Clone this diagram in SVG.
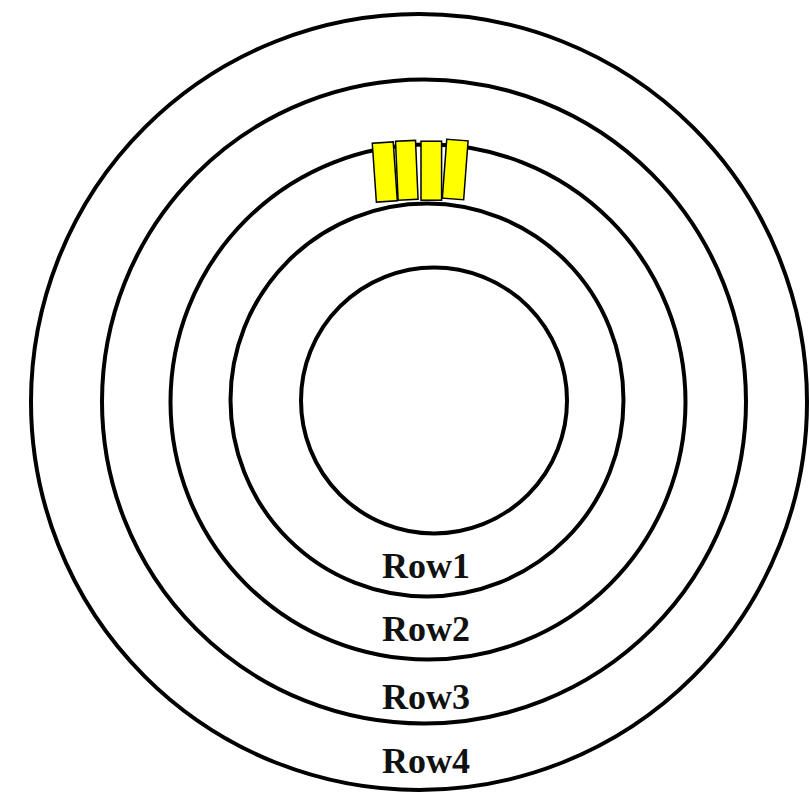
<svg xmlns="http://www.w3.org/2000/svg" width="810" height="792" viewBox="0 0 810 792">
<style>
.ring{fill:none;stroke:#000;stroke-width:4}
.slot{fill:#ffff00;stroke:#000;stroke-width:1.5}
.lbl{font-family:"Liberation Serif","DejaVu Serif",serif;font-weight:bold;font-size:36px;fill:#111;text-anchor:middle}
</style>
<rect width="810" height="792" fill="#fff"/>
<g id="ring5"><circle class="ring" cx="419" cy="402" r="388"/></g>
<g id="ring4"><circle class="ring" cx="424" cy="401.5" r="322"/></g>
<g id="ring3"><circle class="ring" cx="428" cy="402" r="257.5"/></g>
<g id="ring2"><circle class="ring" cx="427" cy="400" r="196.5"/></g>
<g id="ring1"><circle class="ring" cx="434" cy="400.5" r="133"/></g>
<g id="slots">
<rect class="slot" x="-10.5" y="-29.5" width="21" height="59" transform="translate(384.8 172) rotate(-4)"/>
<rect class="slot" x="-10" y="-29.5" width="20" height="59" transform="translate(406.8 170.3) rotate(-2.5)"/>
<rect class="slot" x="-10.3" y="-29.5" width="20.6" height="59" transform="translate(431.3 170.7) rotate(0)"/>
<rect class="slot" x="-10.7" y="-29.5" width="21.4" height="59" transform="translate(455.2 169.5) rotate(4.3)"/>
</g>
<g id="labels">
<text class="lbl" x="426" y="578">Row1</text>
<text class="lbl" x="426" y="641">Row2</text>
<text class="lbl" x="426" y="709">Row3</text>
<text class="lbl" x="426" y="773">Row4</text>
</g>
</svg>
